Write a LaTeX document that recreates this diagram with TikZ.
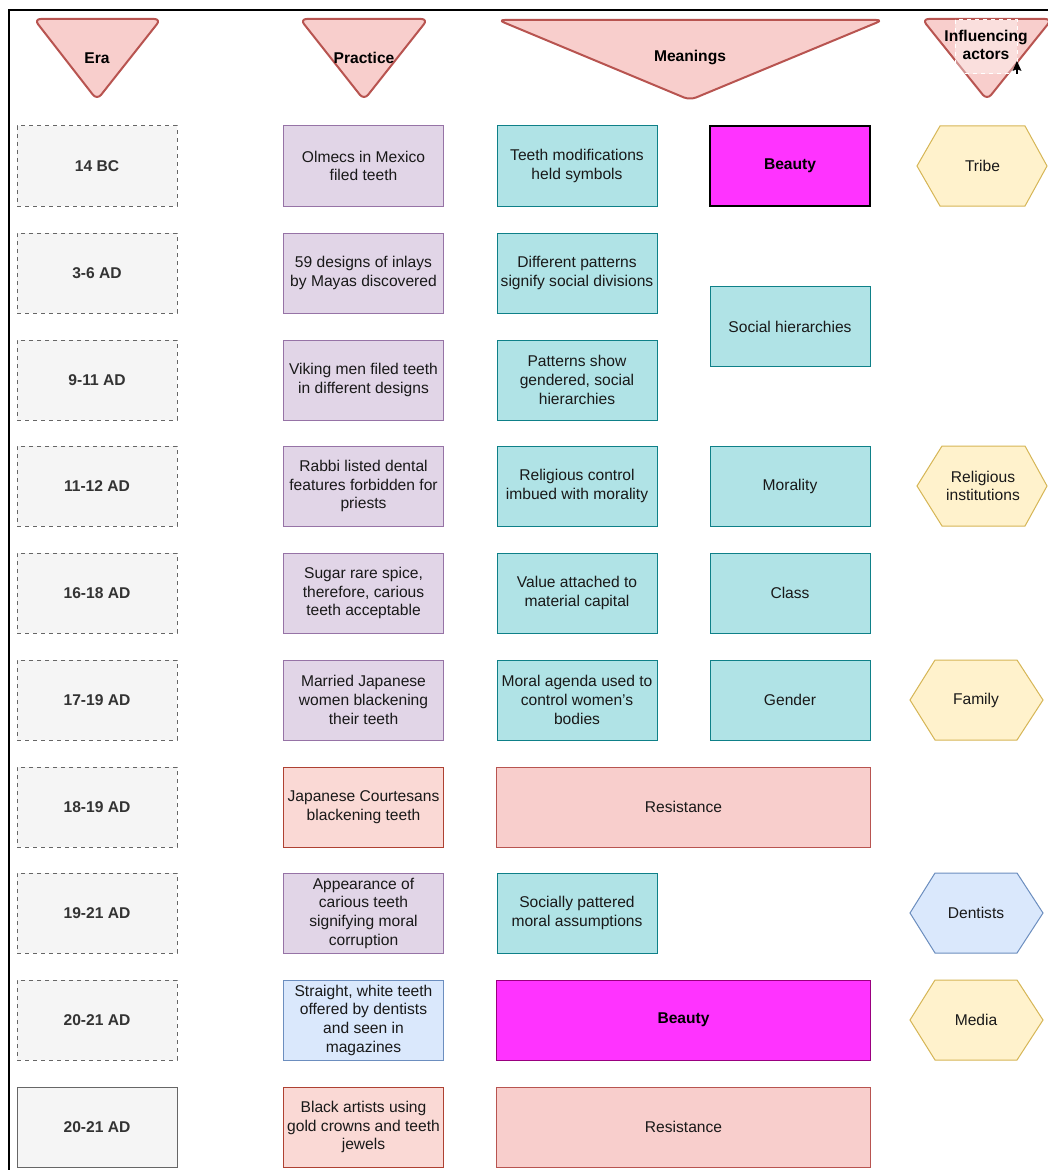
\documentclass[tikz,border=0pt]{standalone}
\usepackage{fontspec}
\setmainfont{Liberation Sans}
\begin{document}
\begin{tikzpicture}[x=0.75pt,y=-0.75pt,
  txt/.style={font=\fontsize{11.7}{14}\selectfont, align=center, text=black!90},
  head/.style={txt, font=\fontsize{11.7}{14}\selectfont\bfseries, text=black},
  box/.style={txt, draw, line width=0.75pt, minimum width=120pt, minimum height=60pt, inner sep=1pt},
  erabox/.style={box, fill=eraFill, draw=eraLine, dashed, font=\fontsize{11.7}{14}\selectfont\bfseries, text=eraText},
  erasolid/.style={box, fill=eraFill, draw=eraLine, font=\fontsize{11.7}{14}\selectfont\bfseries, text=eraText},
  purplebox/.style={box, fill=purFill, draw=purLine},
  tealbox/.style={box, fill=tealFill, draw=tealLine},
  redbox/.style={box, fill=redFill, draw=redLine},
  bluebox/.style={box, fill=bluFill, draw=bluLine},
  resbox/.style={box, fill=resFill, draw=resLine, minimum width=280pt},
  beautybox/.style={box, fill=magFill, font=\fontsize{11.7}{14}\selectfont\bfseries, text=black},
  tri/.style={fill=resFill, draw=resLine, line width=1.5pt, rounded corners=5pt, line join=round},
  hexy/.style={fill=yelFill, draw=yelLine, line width=0.75pt},
  hexb/.style={fill=bluFill, draw=bluLine, line width=0.75pt}
]
\definecolor{eraFill}{HTML}{F5F5F5}
\definecolor{eraLine}{HTML}{666666}
\definecolor{eraText}{HTML}{333333}
\definecolor{purFill}{HTML}{E1D5E7}
\definecolor{purLine}{HTML}{9673A6}
\definecolor{tealFill}{HTML}{B0E3E6}
\definecolor{tealLine}{HTML}{0E8088}
\definecolor{redFill}{HTML}{FAD9D5}
\definecolor{redLine}{HTML}{AE4132}
\definecolor{bluFill}{HTML}{DAE8FC}
\definecolor{bluLine}{HTML}{6C8EBF}
\definecolor{resFill}{HTML}{F8CECC}
\definecolor{resLine}{HTML}{B85450}
\definecolor{magFill}{HTML}{FF33FF}
\definecolor{magLine}{HTML}{99007F}
\definecolor{yelFill}{HTML}{FFF2CC}
\definecolor{yelLine}{HTML}{D6B656}

\useasboundingbox (0,0) rectangle (1047,1170);
\fill[white] (0,0) rectangle (1047,1170);

% window frame
\draw[line width=1.5pt] (9,1172) -- (9,10) -- (1049,10);

% column headings
\draw[tri] (34,19) -- (161,19) -- (97,100) -- cycle;
\node[head] (hEra) at (97,58) {Era};
\draw[tri] (300,19) -- (428,19) -- (364,100) -- cycle;
\node[head] (hPractice) at (364,58) {Practice};
\draw[tri] (498,20) -- (883,20) -- (690,100) -- cycle;
\node[head] (hMeanings) at (690,58) {Meanings};
\draw[tri] (922,19) -- (1052,19) -- (987,100) -- cycle;
\draw[white, dashed, fill=white, fill opacity=0.35, line width=0.75pt] (955,20) rectangle (1017,74);
\node[head] (hActors) at (986,45) {Influencing\\actors};
\fill[black] (1017,61) -- (1012.5,71) -- (1016.2,69.5) -- (1016.2,74) -- (1017.8,74) -- (1017.8,69.5) -- (1021.5,71) -- cycle;

% era column
\node[erabox] (e1) at (97,166) {14 BC};
\node[erabox] (e2) at (97,273) {3-6 AD};
\node[erabox] (e3) at (97,380) {9-11 AD};
\node[erabox] (e4) at (97,486) {11-12 AD};
\node[erabox] (e5) at (97,593) {16-18 AD};
\node[erabox] (e6) at (97,700) {17-19 AD};
\node[erabox] (e7) at (97,807) {18-19 AD};
\node[erabox] (e8) at (97,913) {19-21 AD};
\node[erabox] (e9) at (97,1020) {20-21 AD};
\node[erasolid] (e10) at (97,1127) {20-21 AD};

% practice column
\node[purplebox] (p1) at (363.5,166) {Olmecs in Mexico\\filed teeth};
\node[purplebox] (p2) at (363.5,273) {59 designs of inlays\\by Mayas discovered};
\node[purplebox] (p3) at (363.5,380) {Viking men filed teeth\\in different designs};
\node[purplebox] (p4) at (363.5,486) {Rabbi listed dental\\features forbidden for\\priests};
\node[purplebox] (p5) at (363.5,593) {Sugar rare spice,\\therefore, carious\\teeth acceptable};
\node[purplebox] (p6) at (363.5,700) {Married Japanese\\women blackening\\their teeth};
\node[redbox] (p7) at (363.5,807) {Japanese Courtesans\\blackening teeth};
\node[purplebox] (p8) at (363.5,913) {Appearance of\\carious teeth\\signifying moral\\corruption};
\node[bluebox] (p9) at (363.5,1020) {Straight, white teeth\\offered by dentists\\and seen in\\magazines};
\node[redbox] (p10) at (363.5,1127) {Black artists using\\gold crowns and teeth\\jewels};

% meanings column
\node[tealbox] (m1) at (577,166) {Teeth modifications\\held symbols};
\node[beautybox, draw=black, line width=1pt] (b1) at (790,166) {Beauty};
\node[tealbox] (m2) at (577,273) {Different patterns\\signify social divisions};
\node[tealbox] (m3) at (577,380) {Patterns show\\gendered, social\\hierarchies};
\node[tealbox] (sh) at (790,326.5) {Social hierarchies};
\node[tealbox] (m4) at (577,486) {Religious control\\imbued with morality};
\node[tealbox] (mor) at (790,486) {Morality};
\node[tealbox] (m5) at (577,593) {Value attached to\\material capital};
\node[tealbox] (cls) at (790,593) {Class};
\node[tealbox] (m6) at (577,700) {Moral agenda used to\\control women's\\bodies};
\node[tealbox] (gen) at (790,700) {Gender};
\node[resbox] (r1) at (683.5,807) {Resistance};
\node[tealbox] (m8) at (577,913) {Socially pattered\\moral assumptions};
\node[beautybox, draw=magLine, minimum width=280pt] (b2) at (683.5,1020) {Beauty};
\node[resbox] (r2) at (683.5,1127) {Resistance};

% influencing actors column
\path[hexy] (917,166) -- (940,126) -- (1025,126) -- (1047,166) -- (1025,206) -- (940,206) -- cycle;
\node[txt] (a1) at (982.5,166) {Tribe};
\path[hexy] (917,486) -- (942,446) -- (1025,446) -- (1047,486) -- (1025,526) -- (942,526) -- cycle;
\node[txt] (a2) at (983,486) {Religious\\institutions};
\path[hexy] (910,700) -- (935,660) -- (1017,660) -- (1043,700) -- (1017,740) -- (935,740) -- cycle;
\node[txt] (a3) at (976,700) {Family};
\path[hexb] (910,913) -- (935,873) -- (1017,873) -- (1043,913) -- (1017,953) -- (935,953) -- cycle;
\node[txt] (a4) at (976,913) {Dentists};
\path[hexy] (910,1020) -- (935,980) -- (1017,980) -- (1043,1020) -- (1017,1060) -- (935,1060) -- cycle;
\node[txt] (a5) at (976,1020) {Media};
\end{tikzpicture}
\end{document}
